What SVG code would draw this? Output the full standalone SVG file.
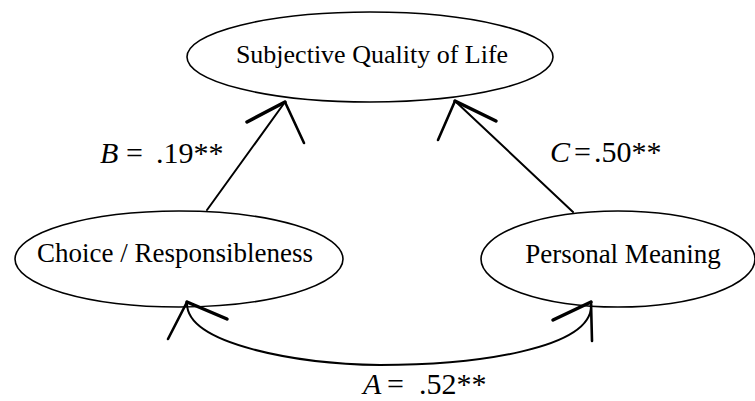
<svg xmlns="http://www.w3.org/2000/svg" width="755" height="401" viewBox="0 0 755 401">
<style>
.node ellipse{fill:#fff;stroke:#000;stroke-width:1.6}
.lbl{font-family:"Liberation Serif","Times New Roman",serif;font-size:27px;fill:#000}
.edge{fill:none;stroke:#000;stroke-width:2;stroke-linecap:round}
.head{fill:none;stroke:#000;stroke-width:3.5;stroke-linecap:round}
.arm{fill:none;stroke:#000;stroke-width:2.6;stroke-linecap:round}
.coef{font-family:"Liberation Serif","Times New Roman",serif;font-size:30px;fill:#000}
.it{font-style:italic}
</style>
<rect width="755" height="401" fill="#fff"/>
<g id="node-sqol" class="node">
<ellipse cx="370" cy="57" rx="183" ry="45"/>
<text class="lbl" x="372" y="63" text-anchor="middle" style="font-size:26px">Subjective Quality of Life</text>
</g>
<g id="node-choice" class="node">
<ellipse cx="179" cy="259" rx="164" ry="48"/>
<text class="lbl" x="175" y="262" text-anchor="middle">Choice / Responsibleness</text>
</g>
<g id="node-meaning" class="node">
<ellipse cx="618" cy="259" rx="137" ry="48"/>
<text class="lbl" x="623" y="263" text-anchor="middle">Personal Meaning</text>
</g>
<g id="connectors">
<g id="edge-B">
<line class="edge" x1="207" y1="210" x2="285" y2="102"/>
<line class="head" x1="285" y1="102" x2="247" y2="122"/>
<line class="arm" x1="285" y1="102" x2="304" y2="143"/>
<text class="coef" y="163"><tspan class="it" x="100">B</tspan><tspan x="126">=</tspan><tspan x="156">.19**</tspan></text>
</g>
<g id="edge-C">
<line class="edge" x1="573" y1="212" x2="455" y2="101"/>
<line class="head" x1="455" y1="101" x2="496" y2="121"/>
<line class="arm" x1="455" y1="101" x2="438" y2="140"/>
<text class="coef" y="162"><tspan class="it" x="550">C</tspan><tspan x="574">=</tspan><tspan x="594">.50**</tspan></text>
</g>
<g id="edge-A">
<path class="edge" d="M187,303 C186,345 300,364 380,365 C470,365 596,350 591,303"/>
<line class="arm" x1="187" y1="302" x2="168" y2="339"/>
<line class="head" x1="187" y1="302" x2="227" y2="319"/>
<line class="head" x1="591" y1="302" x2="553" y2="320"/>
<line class="arm" x1="591" y1="302" x2="592" y2="341"/>
<text class="coef" y="394"><tspan class="it" x="363">A</tspan><tspan x="387">=</tspan><tspan x="419">.52**</tspan></text>
</g>
</g>
</svg>
